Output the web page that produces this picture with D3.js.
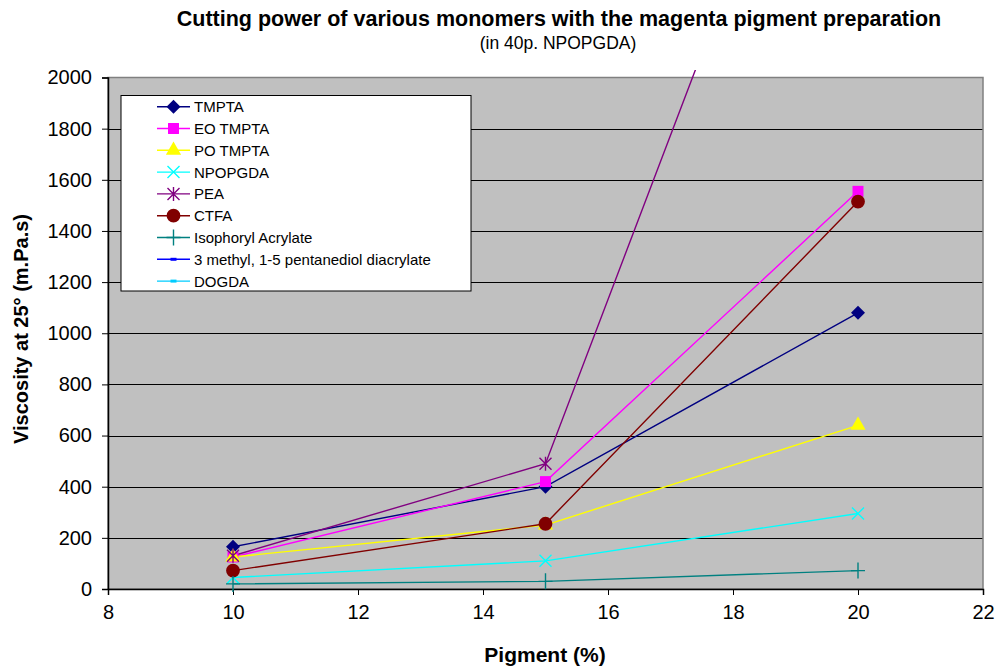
<!DOCTYPE html>
<html><head><meta charset="utf-8">
<script src="https://cdn.jsdelivr.net/npm/d3@7"></script>
<style>body{margin:0;background:#fff;}svg{display:block;font-family:Arial,"Liberation Sans",sans-serif;}</style>
</head><body>
<svg id="c" width="997" height="669"></svg>
<script>
const pigment = [10, 15, 20];
const seriesNames = ["TMPTA","EO TMPTA","PO TMPTA","NPOPGDA","PEA","CTFA","Isophoryl Acrylate","3 methyl, 1-5 pentanediol diacrylate","DOGDA"];
const tmpta = [165, 400, 1080];
const eoTmpta = [125, 420, 1555];
const poTmpta = [125, 250, 640];
const npopgda = [45, 110, 295];
const pea = [130, 490, 3700];
const ctfa = [72, 255, 1515];
const isophoryl = [20, 30, 72];
const methylPentanediol = [];
const dogda = [];
const xTicks = [8,10,12,14,16,18,20,22];
const yTicks = [0,200,400,600,800,1000,1200,1400,1600,1800,2000];
const colors = ["#000080","#FF00FF","#FFFF00","#00FFFF","#800080","#800000","#008080","#0000FF","#00CCFF"];
const markers = ["diamond","square","triangle","x","star","circle","plus","dash","dash"];
const allValues = [tmpta, eoTmpta, poTmpta, npopgda, pea, ctfa, isophoryl, methylPentanediol, dogda];

const svg = d3.select("#c");
const L=108, R=983, T=77.5, B=589;
const x = d3.scaleLinear().domain([8,22]).range([L,R]);
const y = d3.scaleLinear().domain([0,2000]).range([B,T]);

svg.append("rect").attr("x",L).attr("y",T).attr("width",R-L).attr("height",B-T).attr("fill","#C0C0C0");
svg.append("g").selectAll("line").data(yTicks.filter(d=>d>0 && d<2000)).join("line")
  .attr("x1",L).attr("x2",R).attr("y1",d=>Math.round(y(d))+0.5).attr("y2",d=>Math.round(y(d))+0.5)
  .attr("stroke","#000").attr("stroke-width",1);
svg.append("rect").attr("x",L).attr("y",T).attr("width",R-L).attr("height",B-T)
  .attr("fill","none").attr("stroke","#808080").attr("stroke-width",1.5);

const xAxis = svg.append("g").attr("transform",`translate(0,${B})`)
  .call(d3.axisBottom(x).tickValues(xTicks).tickSize(6).tickPadding(10).tickFormat(d3.format("d")));
const yAxis = svg.append("g").attr("transform",`translate(${L},0)`)
  .call(d3.axisLeft(y).tickValues(yTicks).tickSize(6).tickPadding(10).tickFormat(d3.format("d")));
[xAxis,yAxis].forEach(a=>{
  a.selectAll("text").attr("font-size",20).attr("fill","#000").attr("font-family","Arial, 'Liberation Sans', sans-serif");
  a.select(".domain").attr("stroke","#000").attr("stroke-width",1.5);
  a.selectAll(".tick line").attr("stroke","#000");
});

function markerPath(type){
  const s=6;
  switch(type){
    case "diamond": return "M0,-7L7,0L0,7L-7,0Z";
    case "square": return d3.symbol(d3.symbolSquare, 120)();
    case "triangle": return d3.symbol(d3.symbolTriangle, 100)();
    case "circle": return d3.symbol(d3.symbolCircle, 150)();
    case "x": return `M${-s},${-s}L${s},${s}M${-s},${s}L${s},${-s}`;
    case "star": return `M${-s},${-s}L${s},${s}M${-s},${s}L${s},${-s}M0,${-s-1}L0,${s+1}`;
    case "plus": return `M${-s-1},0L${s+1},0M0,${-s-2}L0,${s+2}`;
    case "dash": return "M-3,-1.5h6v3h-6z";
  }
}
const strokeOnly = t => t==="x"||t==="star"||t==="plus";

svg.append("defs").append("clipPath").attr("id","clip")
  .append("rect").attr("x",0).attr("y",70).attr("width",997).attr("height",669-70);

const line = d3.line().x((d,i)=>x(pigment[i])).y(d=>y(d));
const g = svg.append("g").attr("clip-path","url(#clip)");
allValues.forEach((vals,k)=>{
  if(!vals.length) return;
  g.append("path").attr("d",line(vals)).attr("fill","none").attr("stroke",colors[k]).attr("stroke-width",1.4);
});
allValues.forEach((vals,k)=>{
  vals.forEach((v,i)=>{
    const px=x(pigment[i]), py=y(v);
    if(py<T) return;
    const p=g.append("path").attr("d",markerPath(markers[k])).attr("transform",`translate(${px},${py})`);
    if(strokeOnly(markers[k])) p.attr("fill","none").attr("stroke",colors[k]).attr("stroke-width",1.4);
    else p.attr("fill",colors[k]);
  });
});

const lg = svg.append("g");
lg.append("rect").attr("x",121).attr("y",95.5).attr("width",350).attr("height",195.5)
  .attr("fill","#fff").attr("stroke","#000").attr("stroke-width",1);
seriesNames.forEach((n,k)=>{
  const yy = 106.7 + k*21.8;
  lg.append("line").attr("x1",157).attr("x2",190).attr("y1",yy).attr("y2",yy).attr("stroke",colors[k]).attr("stroke-width",1.4);
  const p=lg.append("path").attr("d",markerPath(markers[k])).attr("transform",`translate(173.5,${yy})`);
  if(strokeOnly(markers[k])) p.attr("fill","none").attr("stroke",colors[k]).attr("stroke-width",1.4);
  else p.attr("fill",colors[k]);
  lg.append("text").attr("x",194).attr("y",yy+5.5).attr("font-size",15).text(n);
});

svg.append("text").attr("x",559).attr("y",26).attr("text-anchor","middle").attr("font-size",21.5).attr("font-weight","bold")
  .text("Cutting power of various monomers with the magenta pigment preparation");
svg.append("text").attr("x",558).attr("y",49).attr("text-anchor","middle").attr("font-size",17.5)
  .text("(in 40p. NPOPGDA)");
svg.append("text").attr("x",545).attr("y",662).attr("text-anchor","middle").attr("font-size",21).attr("font-weight","bold")
  .text("Pigment (%)");
svg.append("text").attr("transform","translate(28,329) rotate(-90)").attr("text-anchor","middle").attr("font-size",20).attr("font-weight","bold")
  .text("Viscosity at 25° (m.Pa.s)");
</script>
</body></html>
